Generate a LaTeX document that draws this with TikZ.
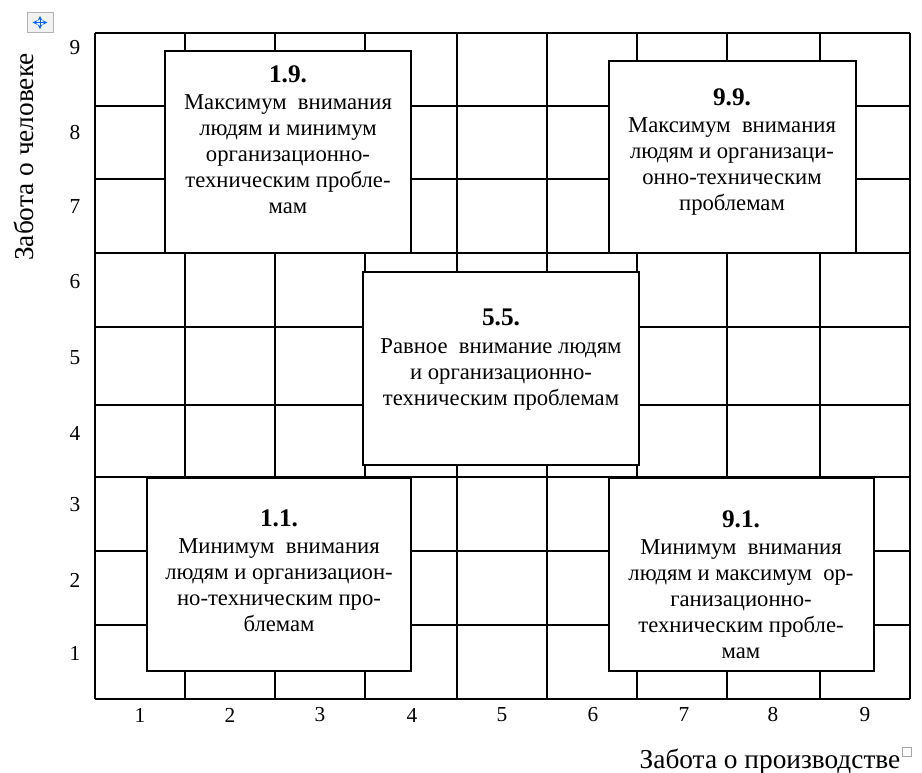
\documentclass[tikz,border=0pt]{standalone}
\usepackage{fontspec}
\setmainfont{Liberation Serif}
\usepackage{tikz}
\tikzset{
    cell/.style={rectangle, draw, fill=white, line width=1.4pt, inner sep=0pt},
    celltext/.style={align=center, inner sep=0pt,
    	font=\fontsize{17}{19.5}\selectfont},
    ticklabel/.style={inner sep=0pt, font=\fontsize{16}{18}\selectfont},
    axislabel/.style={inner sep=0pt, font=\fontsize{20.5}{22}\selectfont}
}
\tikzset{
    gridline/.style={line width=1.4pt}
}
\newcommand{\boxtitle}[1]{{\fontsize{19}{20}\selectfont\bfseries #1}}

\begin{document}
\begin{tikzpicture}[x=0.75pt, y=-0.75pt]
	\useasboundingbox (0,0) rectangle (922,773);
	% grid 9 x 9
	\foreach \x in {95,185,275,365,457,547,637,727,820,910}
		\draw[gridline] (\x,33) -- (\x,699);
	\foreach \y in {33,106,179,253,327,405,477,551,625,699}
		\draw[gridline] (95,\y) -- (910,\y);
	% boxes
	\node[cell, minimum width=184.5pt, minimum height=151.5pt] (b19) at (288,152) {};
	\node[cell, minimum width=185.25pt, minimum height=144pt] (b99) at (732.5,157) {};
	\node[cell, minimum width=207pt, minimum height=144.75pt] (b55) at (501,368.5) {};
	\node[cell, minimum width=198pt, minimum height=144.75pt] (b11) at (279,574.5) {};
	\node[cell, minimum width=198.75pt, minimum height=144.75pt] (b91) at (741.5,574.5) {};
	\node[celltext] (t19) at (288,140) {\boxtitle{1.9.}\\[1pt] Максимум\ \ внимания\\ людям и минимум\\
		организационно-\\ техническим пробле-\\ мам};
	\node[celltext] (t99) at (732,152) {\boxtitle{9.9.}\\[1pt] Максимум\ \ внимания\\ людям и организаци-\\
		онно-техническим\\ проблемам};
	\node[celltext] (t55) at (501,359.5) {\boxtitle{5.5.}\\[1pt] Равное\ \ внимание людям\\
		и организационно-\\ техническим проблемам};
	\node[celltext] (t11) at (279,571) {\boxtitle{1.1.}\\[1pt] Минимум\ \ внимания\\ людям и организацион-\\
		но-техническим про-\\ блемам};
	\node[celltext] (t91) at (741,585) {\boxtitle{9.1.}\\[1pt] Минимум\ \ внимания\\ людям и максимум\ \ ор-\\
		ганизационно-\\ техническим пробле-\\ мам};
	% scale numbers
	\foreach \n/\y in {9/48,8/133,7/207,6/282,5/358,4/433,3/505,2/580,1/653}
		\node[ticklabel] (y\n) at (75,\y) {\n};
	\foreach \n/\x in {1/140,2/230,3/320,4/412,5/502,6/593,7/684,8/773,9/865}
		\node[ticklabel] (x\n) at (\x,715) {\n};
	\node[axislabel, rotate=90] (ylab) at (24,157) {Забота о человеке};
	\node[axislabel] (xlab) at (770,762) {Забота о производстве};
	% table handles
	\node[draw=gray!60, fill=gray!10, line width=0.6pt, minimum width=19.5pt,
		minimum height=14.5pt, inner sep=0pt] (handle) at (40,22.5) {};
	\draw[blue!60!cyan, <->, >=stealth, line width=0.6pt]
		([xshift=-5.5pt]handle.center) -- ([xshift=5.5pt]handle.center);
	\draw[blue!60!cyan, <->, >=stealth, line width=0.6pt]
		([yshift=-5pt]handle.center) -- ([yshift=5pt]handle.center);
	\node[draw=gray!70, line width=0.6pt, minimum size=7pt, inner sep=0pt] (endmark) at (907,752) {};
\end{tikzpicture}
\end{document}
